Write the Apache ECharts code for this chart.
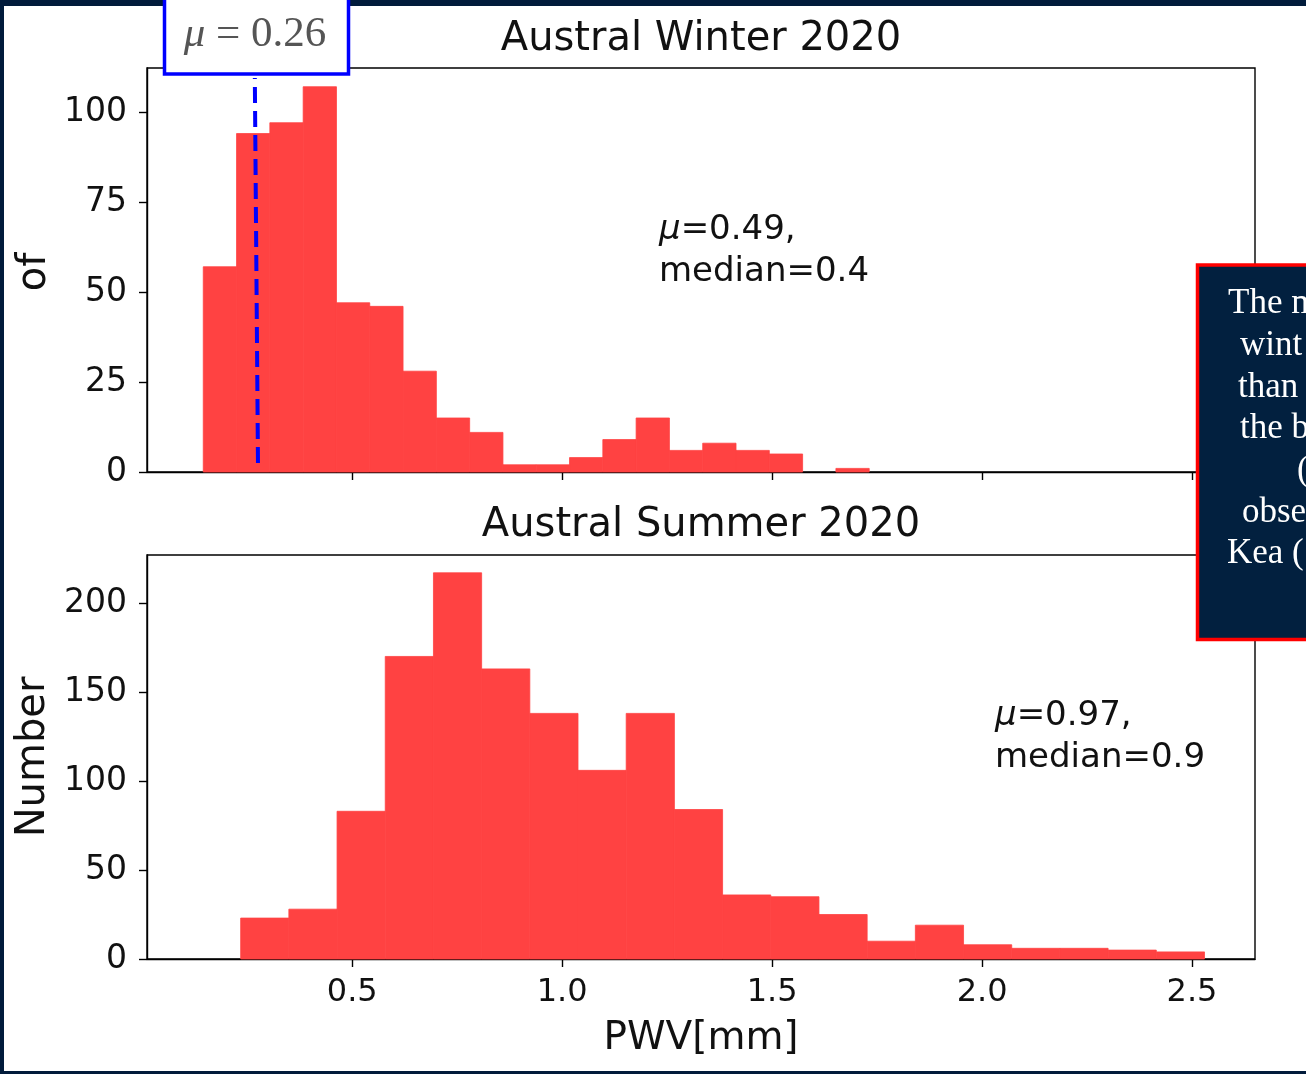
<!DOCTYPE html>
<html><head><meta charset="utf-8">
<script src="https://cdn.jsdelivr.net/npm/echarts@6/dist/echarts.min.js"></script>
<style>
html,body{margin:0;padding:0;background:#011b3b;width:1306px;height:1074px;overflow:hidden}
#paper{position:absolute;left:4px;top:6px;width:1302px;height:1065px;background:#fff}
#c{position:absolute;left:0;top:0;width:1306px;height:1074px}
</style></head><body>
<div id="paper"></div><div id="c"></div>
<script>
// ---- data ----
const xTicks = [0.5, 1.0, 1.5, 2.0, 2.5];
const winterYTicks = [0, 25, 50, 75, 100];
const summerYTicks = [0, 50, 100, 150, 200];
const winterBinStart = 0.1452;
const winterBinWidth = 0.0793;
const winterCounts = [57, 94, 97, 107, 47, 46, 28, 15, 11, 2, 2, 4, 9, 15, 6, 8, 6, 5, 0, 1];
const summerBinStart = 0.2343;
const summerBinWidth = 0.11477;
const summerCounts = [23, 28, 83, 170, 217, 163, 138, 106, 138, 84, 36, 35, 25, 10, 19, 8, 6, 6, 5, 4];
const muMarkerLine = [[0.2755, 2.5], [0.268, 109.4]];
const winterTitle = 'Austral Winter 2020';
const summerTitle = 'Austral Summer 2020';
const winterStats = ['0.49', '0.4'];
const summerStats = ['0.97', '0.9'];
const muBoxText = '0.26';
const noteLines = ['The m', 'wint', 'than', 'the b', '(', 'obse', 'Kea ('];

// ---- chart ----
const FONT = 'DejaVu Sans';
const SERIF = 'Liberation Serif';
const X_MIN = 0.0112, X_MAX = 2.650;
const barColor = '#ff4242';

function bins(start, width, counts) {
  return counts.map((c, i) => [start + i * width, start + (i + 1) * width, c]);
}
function renderBin(params, api) {
  const p0 = api.coord([api.value(0), api.value(2)]);
  const p1 = api.coord([api.value(1), 0]);
  return {
    type: 'rect',
    shape: { x: p0[0], y: p0[1], width: p1[0] - p0[0], height: p1[1] - p0[1] },
    style: { fill: barColor, stroke: api.value(2) > 0 ? barColor : null, lineWidth: 0.8 }
  };
}
function xAxis(gi, showLabels) {
  return {
    type: 'value', gridIndex: gi, min: X_MIN, max: X_MAX,
    axisLine: { show: true, onZero: false, lineStyle: { color: '#000', width: 1.4 } },
    axisTick: { show: true, length: 8, customValues: xTicks, lineStyle: { color: '#000', width: 1.4 } },
    axisLabel: { show: showLabels, customValues: xTicks, margin: 18, fontFamily: FONT, fontSize: 32, color: '#111',
      formatter: v => v.toFixed(1) },
    splitLine: { show: false }
  };
}
function yAxis(gi, max, ticks) {
  return {
    type: 'value', gridIndex: gi, min: 0, max: max,
    axisLine: { show: true, lineStyle: { color: '#000', width: 1.4 } },
    axisTick: { show: true, length: 8, customValues: ticks, lineStyle: { color: '#000', width: 1.4 } },
    axisLabel: { customValues: ticks, margin: 20, fontFamily: FONT, fontSize: 33, color: '#111' },
    splitLine: { show: false }
  };
}
function txt(text, x, y, size, opts) {
  return Object.assign({
    type: 'text', z: 50,
    style: Object.assign({ text, x, y, font: size + 'px "' + FONT + '"', fill: '#111',
      align: 'left', verticalAlign: 'middle', textAlign: 'left', textVerticalAlign: 'middle' }, (opts && opts.style) || {})
  }, (opts && opts.el) || {});
}
function statText(val, med, x, y) {
  return [
    { type: 'text', z: 50, style: { x: x, y: y, text: '{i|μ}{n|=' + val + ',}',
      verticalAlign: 'middle', textVerticalAlign: 'middle',
      rich: { i: { fontFamily: FONT, fontStyle: 'italic', fontSize: 34, fill: '#111' },
              n: { fontFamily: FONT, fontSize: 34, fill: '#111' } } } },
    txt('median=' + med, x, y + 42, 34)
  ];
}

const graphics = [
  txt(winterTitle, 701, 40, 40, { style: { align: 'center', textAlign: 'center' } }),
  txt(summerTitle, 701, 526, 40, { style: { align: 'center', textAlign: 'center' } }),
  txt('PWV[mm]', 701, 1039, 39, { style: { align: 'center', textAlign: 'center' } }),
  txt('of', 0, 0, 40, { style: { align: 'center', textAlign: 'center' }, el: { rotation: Math.PI / 2, x: 35, y: 272 } }),
  txt('Number', 0, 0, 40, { style: { align: 'center', textAlign: 'center' }, el: { rotation: Math.PI / 2, x: 34, y: 757 } }),
  ...statText(winterStats[0], winterStats[1], 659, 230),
  ...statText(summerStats[0], summerStats[1], 995, 716),
  // mu box
  { type: 'rect', z: 60, shape: { x: 164.5, y: -6, width: 184, height: 80 },
    style: { fill: '#fff', stroke: '#0000ff', lineWidth: 3.5 } },
  { type: 'text', z: 61, style: { x: 255, y: 35, text: '{i|μ}{n| = ' + muBoxText + '}',
      align: 'center', textAlign: 'center', verticalAlign: 'middle', textVerticalAlign: 'middle',
      rich: { i: { fontFamily: SERIF, fontStyle: 'italic', fontSize: 43, fill: '#555' },
              n: { fontFamily: SERIF, fontSize: 43, fill: '#555' } } } },
  // note box
  { type: 'rect', z: 60, shape: { x: 1197.5, y: 265, width: 140, height: 374.5 },
    style: { fill: '#02203f', stroke: '#ff0000', lineWidth: 3.5 } }
];
const noteX = [1228, 1240, 1238, 1240, 1297, 1242, 1227];
noteLines.forEach((t, i) => {
  graphics.push({ type: 'text', z: 61, style: { x: noteX[i], y: 304 + i * 41.7, text: t,
    font: '35px "' + SERIF + '"', fill: '#fff', align: 'left', textAlign: 'left',
    verticalAlign: 'middle', textVerticalAlign: 'middle' } });
});

const chart = echarts.init(document.getElementById('c'), null, { renderer: 'canvas' });
chart.setOption({
  backgroundColor: 'transparent',
  animation: false,
  grid: [
    { left: 147, top: 68, width: 1108, height: 404, show: true, borderColor: '#000', borderWidth: 1.4, backgroundColor: 'transparent' },
    { left: 147, top: 555, width: 1108, height: 404, show: true, borderColor: '#000', borderWidth: 1.4, backgroundColor: 'transparent' }
  ],
  xAxis: [xAxis(0, false), xAxis(1, true)],
  yAxis: [yAxis(0, 112.2, winterYTicks), yAxis(1, 227.0, summerYTicks)],
  series: [
    { type: 'custom', xAxisIndex: 0, yAxisIndex: 0, renderItem: renderBin,
      encode: { x: [0, 1], y: 2 }, data: bins(winterBinStart, winterBinWidth, winterCounts) },
    { type: 'custom', xAxisIndex: 1, yAxisIndex: 1, renderItem: renderBin,
      encode: { x: [0, 1], y: 2 }, data: bins(summerBinStart, summerBinWidth, summerCounts) },
    { type: 'line', xAxisIndex: 0, yAxisIndex: 0, data: muMarkerLine, symbol: 'none', z: 5,
      lineStyle: { color: '#0000ff', width: 4, type: [16, 8] } }
  ],
  graphic: graphics
});
</script></body></html>
